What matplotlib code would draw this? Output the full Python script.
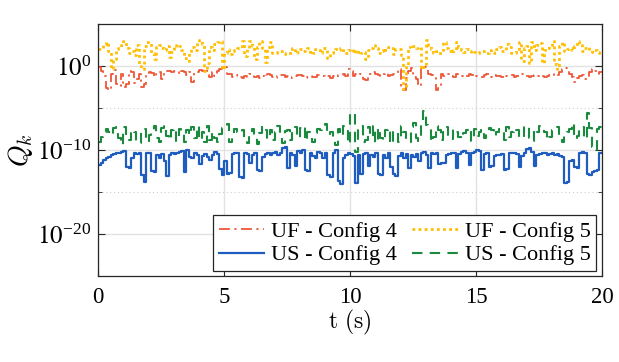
import numpy as np
import matplotlib
matplotlib.use("Agg")
import matplotlib.pyplot as plt
from matplotlib.ticker import FixedLocator, NullFormatter

plt.rcParams['font.family'] = ['Liberation Serif', 'DejaVu Serif']
plt.rcParams['mathtext.fontset'] = 'stix'

# time grid: 0.1 s steps
dt = 0.1
# log10(Q_k) values, one per 0.1 s
us_cfg4 = [
    -11.8, -11.6, -11.2, -10.9, -10.8, -10.6, -10.5, -10.4, -10.3, -10.2,
    -10.1, -12.0, -12.1, -11.0, -10.4, -10.5, -10.3, -13.0, -13.8, -10.3,
    -10.4, -12.5, -12.6, -10.6, -10.9, -10.5, -11.3, -13.1, -10.6, -10.4,
    -10.5, -10.3, -10.2, -10.1, -12.6, -10.0, -10.8, -11.0, -10.4, -10.6,
    -11.7, -10.7, -10.5, -10.8, -11.2, -10.6, -10.2, -10.5, -12.3, -13.0,
    -11.3, -12.8, -12.7, -10.5, -10.3, -10.4, -13.2, -13.3, -10.3, -10.5,
    -11.6, -10.6, -10.4, -12.4, -12.5, -10.8, -10.5, -10.3, -10.6, -10.4,
    -10.2, -10.6, -10.3, -9.8, -9.7, -12.1, -10.3, -10.6, -11.9, -10.1,
    -10.4, -10.0, -12.4, -12.5, -10.3, -10.7, -11.0, -10.2, -10.4, -10.9,
    -10.3, -13.0, -13.2, -10.4, -10.0, -13.7, -14.0, -11.0, -10.6, -10.4,
    -10.5, -10.7, -13.9, -10.6, -12.8, -10.5, -10.4, -11.9, -10.6, -10.8,
    -10.4, -12.8, -13.0, -10.6, -10.9, -10.3, -12.0, -12.9, -13.1, -10.7,
    -10.3, -10.9, -10.5, -12.2, -10.6, -10.8, -10.5, -11.3, -10.4, -10.2,
    -10.6, -12.2, -10.3, -10.5, -10.4, -11.7, -11.6, -11.6, -10.6, -10.5,
    -10.3, -10.4, -12.2, -10.5, -10.2, -10.1, -10.3, -11.8, -10.4, -10.2,
    -10.0, -10.1, -12.4, -10.5, -10.4, -12.0, -11.9, -10.7, -10.6, -10.6,
    -10.5, -12.4, -12.3, -10.3, -10.3, -10.4, -10.5, -12.0, -10.7, -10.3,
    -9.9, -9.8, -10.2, -11.9, -10.6, -10.5, -10.4, -10.4, -10.6, -10.5,
    -10.3, -10.6, -10.5, -10.7, -10.8, -13.9, -13.8, -11.3, -11.2, -12.0,
    -12.1, -10.3, -10.2, -10.4, -12.8, -13.0, -12.6, -12.5, -12.4, -10.3,
    -10.3,
]
us_cfg5 = [
    -9.0, -8.4, -7.8, -7.5, -7.9, -8.2, -7.4, -7.3, -8.6, -9.4,
    -7.3, -8.4, -8.8, -7.6, -7.9, -8.9, -9.2, -7.8, -7.5, -9.0,
    -8.2, -7.7, -7.2, -8.6, -9.1, -7.4, -7.0, -8.3, -8.8, -7.6,
    -7.4, -8.9, -7.5, -7.7, -9.0, -7.6, -8.2, -7.3, -8.6, -7.2,
    -8.8, -7.9, -9.0, -7.2, -8.8, -7.8, -8.6, -9.1, -8.1, -7.4,
    -7.1, -6.9, -9.0, -8.6, -7.5, -7.8, -8.0, -7.6, -8.8, -9.2,
    -8.2, -7.5, -8.3, -9.3, -8.0, -7.2, -7.6, -8.7, -7.6, -8.8,
    -7.9, -7.2, -8.4, -9.2, -7.7, -7.6, -8.8, -7.5, -7.3, -8.6,
    -7.4, -7.2, -8.9, -7.8, -8.3, -9.0, -8.0, -7.5, -7.6, -7.0,
    -6.9, -8.2, -7.8, -8.6, -9.4, -7.5, -8.3, -7.2, -7.7, -9.3,
    -5.8, -5.6, -10.2, -7.6, -7.2, -9.0, -8.8, -7.3, -8.4, -7.1,
    -9.2, -7.4, -8.6, -8.9, -7.6, -7.4, -9.3, -7.8, -7.7, -9.1,
    -7.1, -7.9, -8.7, -9.0, -7.3, -6.8, -8.6, -8.9, -6.9, -5.4,
    -7.0, -7.3, -9.0, -8.4, -7.2, -7.6, -8.8, -7.8, -7.3, -8.2,
    -8.7, -7.5, -7.9, -8.5, -8.7, -8.0, -7.6, -7.4, -8.9, -7.5,
    -8.3, -7.8, -7.5, -8.6, -8.0, -7.4, -7.6, -8.3, -7.8, -7.5,
    -7.9, -8.8, -7.3, -8.5, -7.8, -7.4, -7.6, -8.6, -8.4, -7.2,
    -7.3, -8.6, -8.9, -7.5, -7.8, -7.2, -7.4, -7.9, -8.8, -8.4,
    -7.6, -7.4, -7.3, -8.5, -9.0, -8.2, -7.8, -7.5, -6.8, -8.7,
    -8.3, -7.6, -7.3, -8.7, -5.6, -7.4, -9.7, -10.0, -7.5, -7.3,
    -7.3,
]
uf_cfg4 = [
    -0.1, -0.6, -1.2, -2.6, -2.8, -1.0, -0.5, -2.2, -2.4, -0.9,
    -2.5, -2.2, -0.6, -0.7, -2.0, -1.5, -0.9, -2.5, -2.2, -0.8,
    -0.7, -0.8, -1.3, -0.9, -0.7, -1.6, -0.8, -0.6, -0.6, -0.7,
    -0.6, -0.7, -0.9, -0.6, -0.7, -1.1, -0.7, -1.9, -0.8, -0.7,
    -0.5, -0.6, -0.4, -0.6, -1.3, -0.7, -1.2, -0.6, -0.3, -0.2,
    -0.1, -0.9, -1.0, -1.3, -1.2, -1.1, -1.3, -1.4, -1.2, -1.3,
    -1.0, -1.1, -1.3, -1.2, -1.4, -1.2, -1.3, -1.0, -1.1, -1.3,
    -1.4, -1.2, -1.1, -1.1, -1.3, -1.2, -1.4, -1.3, -1.2, -1.1,
    -1.1, -1.2, -1.4, -1.3, -1.2, -1.3, -1.3, -1.1, -1.1, -1.2,
    -1.3, -1.2, -1.4, -1.2, -1.3, -1.1, -1.1, -1.0, -1.2, -0.3,
    -0.6, -1.2, -0.9, -0.8, -0.9, -1.5, -1.7, -1.0, -0.9, -0.7,
    -1.0, -1.1, -1.2, -1.0, -0.8, -1.2, -1.1, -0.9, -1.0, -0.4,
    -2.6, -2.8, -1.4, -0.6, -0.2, -1.3, -1.6, -2.4, -0.2, -0.1,
    -0.2, -0.9, -1.1, -1.2, -2.9, -2.6, -0.9, -1.2, -1.0, -0.9,
    -1.2, -1.3, -1.0, -1.1, -1.2, -1.3, -1.2, -1.0, -1.1, -1.3,
    -1.2, -1.2, -1.3, -1.1, -1.0, -1.2, -1.3, -1.1, -1.2, -1.2,
    -1.3, -1.1, -1.2, -1.2, -1.1, -1.3, -1.2, -1.1, -1.0, -1.2,
    -1.2, -1.3, -1.2, -1.1, -1.2, -1.3, -1.2, -1.3, -1.2, -1.1,
    -1.0, -1.2, -1.1, -0.7, -0.4, -0.2, -0.5, -1.0, -1.3, -1.9,
    -1.4, -1.2, -1.1, -1.6, -1.5, -0.7, -0.3, -0.6, -0.9, -0.7,
    -0.7,
]
uf_cfg5 = [
    2.0, 2.1, 2.6, 2.9, 1.8, -0.3, 0.8, 2.0, 2.2, 2.5,
    3.0, 2.2, 1.6, 1.8, 1.3, 2.5, 0.0, -0.4, 2.4, 2.9,
    2.8, 1.5, 0.8, 2.3, 2.5, 2.2, 1.9, 2.4, 1.1, 1.7,
    2.5, 2.3, 2.4, 1.9, 0.9, 0.6, 1.5, 2.3, 1.9, 2.8,
    3.1, 2.6, -0.6, 0.4, 2.3, 1.9, 2.6, 2.8, 3.0, -0.4,
    1.6, 2.0, 1.4, 1.8, 1.9, 2.1, 2.2, 3.0, 1.2, 2.1,
    3.0, 2.4, 0.8, 2.3, 3.0, 2.2, 0.5, 2.3, 2.8, 1.6,
    1.5, 1.7, 1.8, 1.6, 1.4, 1.5, 1.5, 2.2, 1.5, 1.7,
    2.0, 1.8, 2.0, 2.2, 1.4, 1.6, 2.0, 1.9, 1.5, 2.1,
    2.2, 0.9, 1.5, 1.7, 2.0, 1.9, 2.2, 1.5, 1.6, 1.9,
    2.0, 1.6, 1.9, 1.4, 1.6, 1.7, 0.8, 1.9, 2.2, 2.5,
    2.1, 1.6, 1.8, 2.1, 1.9, 2.3, 2.2, 1.4, 2.0, 2.0,
    1.3, -2.7, 0.1, 2.3, 2.2, 2.4, 2.2, 2.3, -0.4, 0.2,
    3.1, 2.5, 2.0, 1.6, 1.8, 1.6, 1.5, 2.8, 2.1, 1.8,
    1.6, 1.9, 2.9, 2.3, 1.9, 1.7, 2.0, 1.8, 1.6, 1.7,
    1.5, 1.7, 1.8, 1.6, 1.5, 1.9, 1.7, 1.6, 2.0, 2.3,
    1.8, 1.9, 2.6, 2.3, 1.6, 1.5, 2.0, 2.9, 0.6, 2.2,
    2.4, 0.4, 2.9, 1.9, 2.5, 2.7, 0.4, 1.9, 2.2, 2.5,
    3.0, 0.2, -0.4, 2.4, 2.8, 1.8, 2.0, 2.1, 1.9, 2.4,
    3.0, 2.5, 1.8, 2.2, 2.3, 1.9, 1.7, 1.9, 1.7, 1.5,
    1.5,
]

labels = ['UF - Config 4', 'UF - Config 5', 'US - Config 4', 'US - Config 5']
x_ticks = [0, 5, 10, 15, 20]
y_major = [1e-20, 1e-10, 1e0]
y_major_labels = [r'$10^{\mathregular{-20}}$', r'$10^{\mathregular{-10}}$', r'$10^{\mathregular{0}}$']
y_minor = [1e-25, 1e-15, 1e-5, 1e5]

t = np.arange(len(us_cfg4)) * dt

fig = plt.figure(figsize=(6.19, 3.62), dpi=100)
ax = fig.add_axes([0.1588, 0.2376, 0.9725 - 0.1588, 0.9337 - 0.2376])

c_red = '#ee5638'
c_yel = '#ffbe00'
c_blu = '#1f5cbf'
c_grn = '#1a8a3e'

l_uf4, = ax.plot(t, 10.0 ** np.array(uf_cfg4), drawstyle='steps-post', color=c_red,
                 lw=1.3, linestyle=(0, (6, 2.5, 1.2, 2.5)))
l_uf5, = ax.plot(t, 10.0 ** np.array(uf_cfg5), drawstyle='steps-post', color=c_yel,
                 lw=2.0, linestyle=(0, (1, 1.2)))
l_us4, = ax.plot(t, 10.0 ** np.array(us_cfg4), drawstyle='steps-post', color=c_blu,
                 lw=1.6, linestyle='-')
l_us5, = ax.plot(t, 10.0 ** np.array(us_cfg5), drawstyle='steps-post', color=c_grn,
                 lw=1.5, linestyle=(0, (5, 3.5)))

ax.set_yscale('log')
ax.set_xlim(0, 20)
ax.set_ylim(1e-25, 1e5)
ax.xaxis.set_major_locator(FixedLocator(x_ticks))
ax.set_xticklabels([str(v) for v in x_ticks])
ax.yaxis.set_major_locator(FixedLocator(y_major))
ax.set_yticklabels(y_major_labels)
ax.yaxis.set_minor_locator(FixedLocator(y_minor))
ax.yaxis.set_minor_formatter(NullFormatter())

ax.tick_params(which='both', direction='in', top=True, right=True,
               colors='#262626', labelcolor='black')
ax.tick_params(axis='x', labelsize=16.5, pad=8)
ax.tick_params(axis='y', labelsize=18, pad=5)
ax.tick_params(which='major', length=5, width=0.8)
ax.tick_params(which='minor', length=3, width=0.6)

ax.grid(True, which='major', color='#e2e2e2', lw=1.0, linestyle='-')
ax.grid(True, which='minor', axis='y', color='#cfcfcf', lw=0.8, linestyle=(0, (1, 2.5)))
ax.set_axisbelow(True)
for s in ax.spines.values():
    s.set_color('#262626')
    s.set_linewidth(0.9)

ax.set_xlabel(r'$\mathrm{t\ (s)}$', fontsize=17, math_fontfamily='cm', labelpad=0)
ax.set_ylabel(r'$Q_k$', fontsize=20, math_fontfamily='cm', labelpad=2)

leg = ax.legend([l_uf4, l_us4, l_uf5, l_us5],
                [labels[0], labels[2], labels[1], labels[3]],
                ncol=2, loc='lower right', bbox_to_anchor=(0.988, 0.02),
                fontsize=16, frameon=True, fancybox=False, framealpha=1,
                edgecolor='#262626', handlelength=2.05, handletextpad=0.3,
                columnspacing=0.7, labelspacing=0.15, borderpad=0.25,
                borderaxespad=0.0)
leg.get_frame().set_linewidth(0.9)

fig.savefig('out.png', dpi=100)
